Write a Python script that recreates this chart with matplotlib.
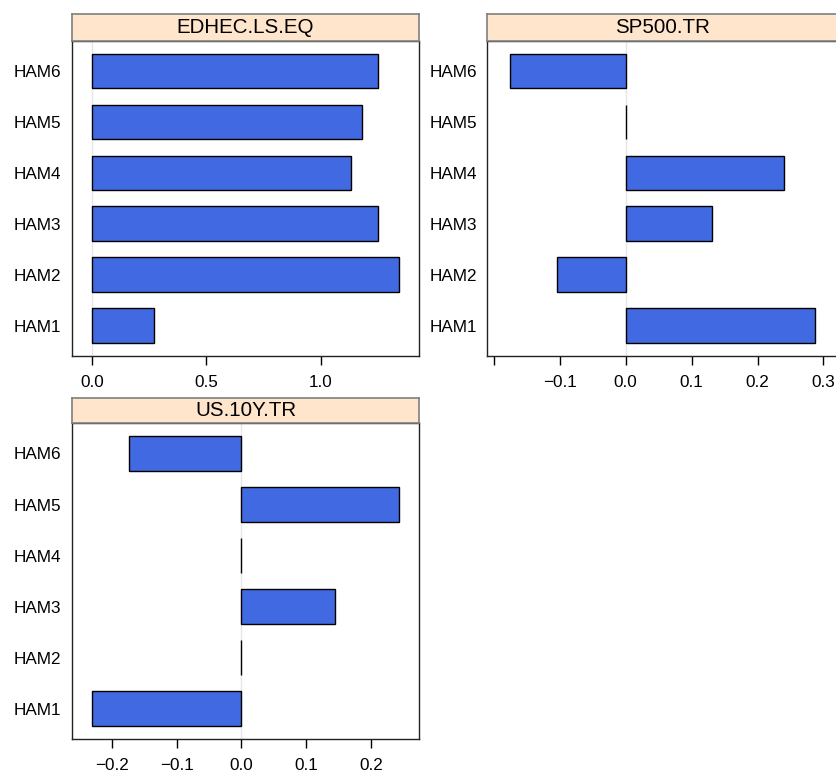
import matplotlib
matplotlib.use("Agg")
import matplotlib.pyplot as plt

categories = ["HAM1", "HAM2", "HAM3", "HAM4", "HAM5", "HAM6"]
edhec_ls_eq = [0.272, 1.342, 1.251, 1.134, 1.181, 1.251]
sp500_tr = [0.287, -0.105, 0.131, 0.240, 0.0, -0.176]
us10y_tr = [-0.231, 0.0, 0.144, 0.0, 0.243, -0.174]

panels = [
    ("EDHEC.LS.EQ", edhec_ls_eq, [0.0, 0.5, 1.0], ["0.0", "0.5", "1.0"], (-0.089, 1.432)),
    ("SP500.TR", sp500_tr, [-0.2, -0.1, 0.0, 0.1, 0.2, 0.3], ["", "\u22120.1", "0.0", "0.1", "0.2", "0.3"], (-0.210, 0.322)),
    ("US.10Y.TR", us10y_tr, [-0.2, -0.1, 0.0, 0.1, 0.2], ["\u22120.2", "\u22120.1", "0.0", "0.1", "0.2"], (-0.262, 0.275)),
]

W, H = 836, 773
# pixel boxes: (x0, x1, strip_top, panel_top, panel_bottom)
boxes = [
    (71.7, 419.3, 14.3, 41.0, 355.7),
    (487.3, 838.0, 14.3, 41.0, 355.7),
    (71.7, 419.3, 398.3, 423.3, 739.0),
]

plt.rcParams['font.family'] = ['Liberation Sans', 'DejaVu Sans']
fig = plt.figure(figsize=(W / 100, H / 100), dpi=100)

strip_bg = "#FFE5CC"
bar_color = "#4169E1"

for (title, vals, ticks, tlabels, xlim), (x0, x1, st, pt, pb) in zip(panels, boxes):
    ax = fig.add_axes([x0 / W, 1 - pb / H, (x1 - x0) / W, (pb - pt) / H])
    pos = list(range(1, len(categories) + 1))
    ax.axvline(0, color="#E6E6E6", lw=1, zorder=1)
    ax.barh(pos, vals, height=0.68, color=bar_color, edgecolor="black", linewidth=1.0, zorder=2)
    ax.set_xlim(*xlim)
    ax.set_ylim(0.41, 6.59)
    ax.set_yticks(pos)
    ax.set_yticklabels(categories, fontsize=12.3)
    ax.set_xticks(ticks)
    ax.set_xticklabels(tlabels, fontsize=12.3)
    ax.tick_params(axis="y", length=0, pad=7.5)
    ax.tick_params(axis="x", length=6.8, width=1, pad=7, direction="out")
    for s in ax.spines.values():
        s.set_color("#222222")
        s.set_linewidth(1.0)

    sax = fig.add_axes([x0 / W, 1 - pt / H, (x1 - x0) / W, (pt - st) / H])
    sax.set_facecolor(strip_bg)
    sax.set_xticks([])
    sax.set_yticks([])
    for s in sax.spines.values():
        s.set_color("#7F7F7F")
        s.set_linewidth(1.2)
    sax.text(0.5, 0.5, title, ha="center", va="center", fontsize=14.8, transform=sax.transAxes)

fig.savefig("out.png", dpi=100)
